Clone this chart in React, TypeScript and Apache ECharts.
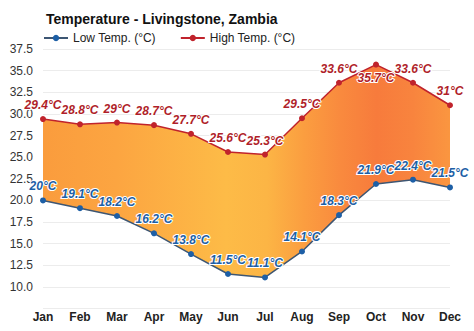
import React, { useEffect, useRef } from "react";
import * as echarts from "echarts";

const months = ["Jan", "Feb", "Mar", "Apr", "May", "Jun", "Jul", "Aug", "Sep", "Oct", "Nov", "Dec"];
const lowTemps = [20, 19.1, 18.2, 16.2, 13.8, 11.5, 11.1, 14.1, 18.3, 21.9, 22.4, 21.5];
const highTemps = [29.4, 28.8, 29, 28.7, 27.7, 25.6, 25.3, 29.5, 33.6, 35.7, 33.6, 31];

const FONT = "'Liberation Sans', Arial, sans-serif";

export default function App() {
  const ref = useRef<HTMLDivElement>(null);
  useEffect(() => {
    if (!ref.current) return;
    const chart = echarts.init(ref.current, undefined, { renderer: "svg" });
    const band = highTemps.map((h, i) => +(h - lowTemps[i]).toFixed(2));
    const labelBase = {
      show: true,
      fontFamily: FONT,
      fontSize: 12,
      fontStyle: "italic" as const,
      fontWeight: "bold" as const,
      textBorderColor: "#fff",
      textBorderWidth: 2,
      formatter: (p: any) => `${p.value}°C`,
    };
    chart.setOption({
      animation: false,
      backgroundColor: "#fff",
      title: {
        text: "Temperature - Livingstone, Zambia",
        left: 41,
        top: 7,
        textStyle: { fontFamily: FONT, fontSize: 14, fontWeight: "bold", color: "#111" },
      },
      legend: {
        data: ["Low Temp. (°C)", "High Temp. (°C)"],
        left: 38,
        top: 27,
        itemWidth: 24,
        itemHeight: 8,
        itemGap: 24,
        textStyle: { fontFamily: FONT, fontSize: 12, color: "#222" },
      },
      grid: { left: 43, right: 24, top: 49, bottom: 22.4, containLabel: false },
      xAxis: {
        type: "category",
        data: months,
        boundaryGap: false,
        axisLine: { show: false },
        axisTick: { show: false },
        axisLabel: { fontFamily: FONT, fontSize: 12, fontWeight: "bold", color: "#222", margin: 2 },
        splitLine: { show: false },
      },
      yAxis: {
        type: "value",
        min: 7.5,
        max: 37.5,
        interval: 2.5,
        axisLine: { show: false },
        axisTick: { show: false },
        axisLabel: {
          fontFamily: FONT,
          fontSize: 12,
          color: "#333",
          margin: 10,
          formatter: (v: number) => (v === 7.5 ? "" : v.toFixed(1)),
        },
        splitLine: { lineStyle: { color: "#ececec", width: 1 } },
      },
      series: [
        {
          name: "Low Temp. (°C)",
          type: "line",
          stack: "band",
          data: lowTemps,
          color: "#1d5fa6",
          symbol: "circle",
          symbolSize: 6,
          lineStyle: { color: "#3d5673", width: 1.5 },
          itemStyle: { color: "#1d5fa6" },
          label: { ...labelBase, position: "top", distance: 5, color: "#1d5fa6" },
          z: 4,
        },
        {
          name: "band",
          type: "line",
          stack: "band",
          data: band,
          symbol: "none",
          lineStyle: { width: 0, opacity: 0 },
          areaStyle: {
            opacity: 1,
            color: new echarts.graphic.LinearGradient(0, 0, 1, 0, [
              { offset: 0, color: "#fa9c3d" },
              { offset: 0.18, color: "#fca541" },
              { offset: 0.45, color: "#fdbb47" },
              { offset: 0.55, color: "#fcb545" },
              { offset: 0.64, color: "#fb9e40" },
              { offset: 0.73, color: "#f98a3e" },
              { offset: 0.82, color: "#f77b3c" },
              { offset: 0.91, color: "#f8843e" },
              { offset: 1, color: "#fa9640" },
            ]),
          },
          silent: true,
          z: 2,
        },
        {
          name: "High Temp. (°C)",
          type: "line",
          data: highTemps.map((v, i) =>
            months[i] === "Oct" ? { value: v, label: { position: "bottom", distance: 4 } } : v
          ),
          color: "#c0232c",
          symbol: "circle",
          symbolSize: 6,
          lineStyle: { color: "#c0232c", width: 1.5 },
          itemStyle: { color: "#c0232c" },
          label: {
            ...labelBase,
            position: "top",
            distance: 5,
            color: "#b01f2a",
          },
          z: 4,
        },
      ],
    });
    return () => chart.dispose();
  }, []);
  return <div ref={ref} style={{ width: 474, height: 331, position: "absolute", left: 0, top: 0 }} />;
}
